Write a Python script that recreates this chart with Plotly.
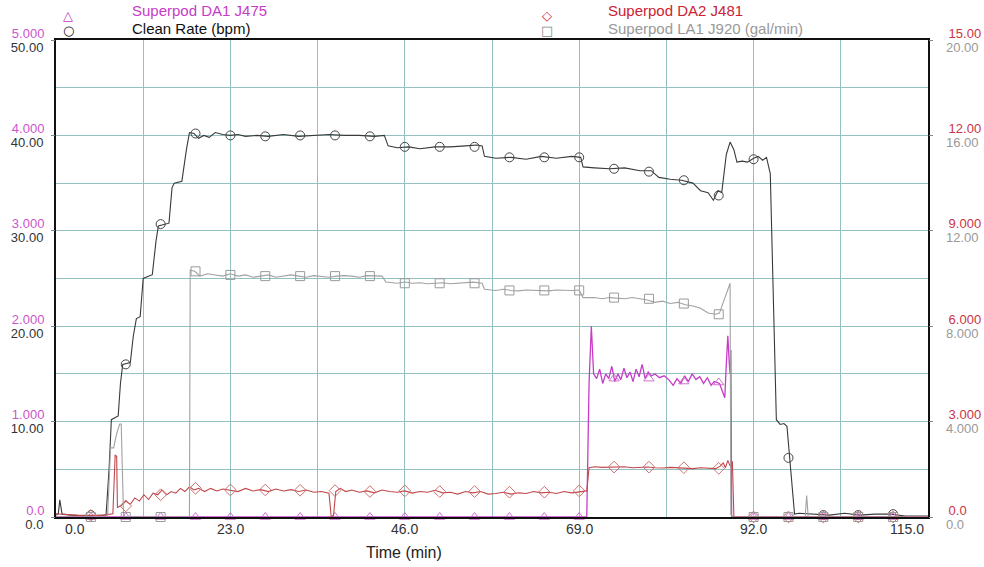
import plotly.graph_objects as go

# ---------------- data ----------------
# Clean Rate (bpm) - left black axis 0..50
clean_t = [0, 0.3, 0.5, 0.8, 2, 4, 6.6, 7.0, 7.3, 8.2, 8.5, 8.8, 9.8, 10.2, 10.6, 11.1, 11.5, 12.7,
           13.2, 13.5, 14.9, 15.3, 15.6, 16.6, 17.2, 17.6, 18.2, 18.8, 19.5, 20.2, 21, 22, 23, 24, 25,
           26.5, 28, 30, 32, 34, 36, 38, 40, 42, 43.3, 43.8, 45, 46.5, 48, 50, 52, 54, 55.5, 56.2, 56.5,
           58, 60, 62, 64, 66, 68, 69.2, 69.5, 71, 73, 75, 77, 78.5, 79.5, 81, 82.5, 84, 85, 86, 86.7,
           87.3, 87.8, 88.4, 88.9, 89.4, 89.8, 90.5, 91.2, 92, 92.6, 93.2, 93.7, 94.2, 95.0, 95.5, 96.0,
           96.4, 96.9, 97.4, 98, 100, 102, 104, 106, 108, 110, 112, 115]
clean_v = [0.2, 0.3, 1.8, 0.3, 0.2, 0.1, 0.2, 5, 10.2, 10.6, 14, 16.0, 16.2, 19, 20.8, 21.0, 25.0, 25.4,
           29, 30.5, 30.8, 34.5, 35.0, 35.2, 38.5, 40.3, 40.2, 39.7, 40.0, 39.8, 40.3, 40.1, 40.0, 40.1, 39.9,
           40.0, 39.9, 40.1, 39.9, 40.0, 40.1, 40.0, 40.0, 39.9, 40.0, 38.9, 38.7, 38.8, 38.6, 38.8, 38.8, 38.9, 39.0, 38.9, 37.8,
           37.6, 37.7, 37.5, 37.8, 37.6, 37.8, 37.7, 36.7, 36.6, 36.5, 36.6, 36.3, 36.3, 35.6, 35.4, 35.3, 35.0, 34.2, 34.0, 33.2,
           34.2, 34.0, 38.0, 39.3, 38.5, 37.2, 37.3, 37.2, 37.6, 37.8, 37.4, 37.7, 36.0, 10.2, 9.7, 9.8,
           9.5, 5.0, 0.3, 0.4, 0.3, 0.2, 0.4, 0.2, 0.3, 0.3, 0.1, 0.1]

# Superpod DA1 J475 - left magenta axis 0..5
da1_t = [0, 70.0, 70.3, 70.6, 70.9, 71.3, 71.7, 72.1, 72.5, 72.9, 73.3, 73.7, 74.1, 74.5, 74.9, 75.3,
         75.7, 76.1, 76.5, 76.9, 77.3, 77.7, 78.1, 78.5, 79.0, 79.6, 80.2, 80.8, 81.4, 81.9, 82.4, 82.9,
         83.4, 83.9, 84.4, 84.9, 85.4, 85.9, 86.4, 86.8, 87.5, 88.0, 88.2, 88.4, 88.6, 88.8, 88.9, 89.0,
         89.1, 115]
da1_v = [0, 0, 1.4, 2.0, 1.5, 1.45, 1.55, 1.4, 1.5, 1.45, 1.58, 1.42, 1.5, 1.44, 1.56, 1.46,
         1.52, 1.42, 1.55, 1.47, 1.6, 1.45, 1.52, 1.48, 1.5, 1.46, 1.48, 1.44, 1.38, 1.45, 1.40, 1.48,
         1.42, 1.50, 1.44, 1.47, 1.40, 1.46, 1.38, 1.42, 1.40, 1.30, 1.25, 1.6, 1.9, 1.6, 1.5, 1.75,
         0, 0]

# Superpod DA2 J481 - right red axis 0..15
da2_t = [0, 3, 6, 7.5, 7.8, 8.0, 8.1, 8.6, 9.2, 9.8, 10.4, 11, 11.6, 12.2, 12.8, 13.4, 14, 14.6, 15.2,
         15.8, 16.4, 17, 17.6, 18.2, 18.8, 19.6, 20.4, 21.2, 22, 23, 24, 25, 26, 27, 28, 29, 30, 31, 32,
         33, 34, 35, 36, 36.3, 36.6, 36.9, 37.5, 38.2, 39, 40, 41, 42, 43, 44, 45, 46, 47, 48, 49, 50,
         51, 52, 53, 54, 55, 56, 57, 58, 59, 60, 61, 62, 63, 64, 65, 66, 67, 68, 69, 70.0, 70.3, 71,
         72, 73, 74, 75, 76, 77, 78, 79, 80, 81, 82, 83, 84, 85, 86, 87, 87.6, 88.0, 88.3, 88.6, 88.9,
         89.2, 89.4, 115]
da2_v = [0.1, 0.05, 0.05, 0.1, 1.95, 1.9, 0.3, 0.35, 0.5, 0.4, 0.6, 0.5, 0.7, 0.55, 0.75, 0.7, 0.85, 0.7, 0.8,
         0.75, 0.9, 0.8, 0.95, 0.85, 0.9, 0.8, 0.9, 0.82, 0.88, 0.85, 0.8, 0.9, 0.82, 0.86, 0.8, 0.88, 0.82, 0.86, 0.8,
         0.85, 0.78, 0.8, 0.75, 0.0, 0.05, 0.8, 0.9, 0.8, 0.85, 0.78, 0.82, 0.76, 0.85, 0.8, 0.78, 0.82, 0.75, 0.8, 0.78, 0.84,
         0.76, 0.78, 0.72, 0.8, 0.76, 0.8, 0.72, 0.74, 0.78, 0.72, 0.76, 0.74, 0.8, 0.76, 0.78, 0.74, 0.8, 0.76, 0.78, 0.82, 1.55, 1.58,
         1.56, 1.57, 1.56, 1.58, 1.55, 1.56, 1.57, 1.55, 1.54, 1.56, 1.55, 1.53, 1.52, 1.55, 1.53, 1.52, 1.6, 1.7, 1.55, 1.78, 1.6,
         1.75, 0.0, 0.0]

# Superpod LA1 J920 (gal/min) - right gray axis 0..20
la1_t = [0, 6.8, 7.2, 7.6, 8.0, 8.4, 8.6, 8.9, 9.2, 17.6, 17.7, 18.3, 19, 20, 21, 22, 23, 24, 25, 26, 27,
         28, 29, 30, 31, 32, 33, 34, 35, 36, 37, 38, 39, 40, 41, 42, 43, 43.5, 45, 46, 47, 48, 49, 50, 51,
         52, 53, 54, 55, 56.2, 56.5, 58, 59, 60, 61, 62, 63, 64, 65, 66, 67, 68, 69, 69.5, 71, 72, 73, 74,
         75, 76, 77, 78, 79, 80, 81, 82, 83, 84, 85, 86, 87, 87.5, 88, 88.5, 88.9, 89.0, 89.3, 98.8, 99.0,
         99.2, 115]
la1_v = [0, 0, 2.9, 2.9, 3.5, 3.9, 3.9, 0.1, 0, 0, 10.35, 10.3, 10.1, 10.2, 10.15, 10.1, 10.2, 10.1, 10.15, 10.05, 10.1,
         10.15, 10.05, 10.1, 10.15, 10.1, 10.05, 10.12, 10.1, 10.05, 10.1, 10.12, 10.1, 10.05, 10.12, 10.1, 10.1, 9.85, 9.8, 9.85, 9.8, 9.82, 9.78, 9.8, 9.82,
         9.78, 9.8, 9.82, 9.85, 9.8, 9.55, 9.5, 9.55, 9.5, 9.48, 9.52, 9.5, 9.5, 9.48, 9.52, 9.5, 9.5, 9.52, 9.2, 9.2, 9.15, 9.2, 9.18,
         9.15, 9.2, 9.15, 9.1, 9.0, 9.05, 8.95, 9.0, 8.9, 8.85, 8.75, 8.55, 8.5, 8.55, 9.0, 9.4, 9.8, 0.1, 0, 0, 0.9,
         0, 0]

# marker positions (every 4.6 min) and marker values per series
marker_t = [4.6, 9.2, 13.8, 18.4, 23.0, 27.6, 32.2, 36.8, 41.4, 46.0, 50.6, 55.2, 59.8, 64.4, 69.0,
            73.6, 78.2, 82.8, 87.4, 92.0, 96.6, 101.2, 105.8, 110.4]
clean_m = [0.2, 16.0, 30.7, 40.2, 40.0, 39.9, 40.0, 40.0, 39.9, 38.8, 38.8, 38.8, 37.7, 37.7, 37.7,
           36.5, 36.2, 35.3, 33.7, 37.5, 6.2, 0.2, 0.2, 0.3]
da1_m = [0, 0, 0, 0, 0, 0, 0, 0, 0, 0, 0, 0, 0, 0, 0, 1.45, 1.45, 1.42, 1.41, 0, 0, 0, 0, 0]
da2_m = [0.05, 0.35, 0.7, 0.9, 0.85, 0.85, 0.84, 0.83, 0.8, 0.82, 0.8, 0.8, 0.78, 0.78, 0.82,
         1.57, 1.57, 1.55, 1.53, 0, 0, 0, 0, 0]
la1_m = [0, 0, 0, 10.3, 10.15, 10.1, 10.1, 10.1, 10.1, 9.8, 9.8, 9.8, 9.5, 9.5, 9.5,
         9.2, 9.15, 8.95, 8.5, 0, 0, 0, 0, 0]

# axis ticks
x_tick_vals = [0, 23, 46, 69, 92, 115]
x_tick_text = ["0.0", "23.0", "46.0", "69.0", "92.0", "115.0"]
x_grid_vals = [0, 11.5, 23, 34.5, 46, 57.5, 69, 80.5, 92, 103.5, 115]
clean_tick_vals = [0, 5, 10, 15, 20, 25, 30, 35, 40, 45, 50]
clean_tick_text = ["0.0", "", "10.00", "", "20.00", "", "30.00", "", "40.00", "", "50.00"]
da1_tick_vals = [0, 1, 2, 3, 4, 5]
da1_tick_text = ["0.0", "1.000", "2.000", "3.000", "4.000", "5.000"]
da2_tick_vals = [0, 3, 6, 9, 12, 15]
da2_tick_text = ["0.0", "3.000", "6.000", "9.000", "12.00", "15.00"]
la1_tick_vals = [0, 4, 8, 12, 16, 20]
la1_tick_text = ["0.0", "4.000", "8.000", "12.00", "16.00", "20.00"]

# ---------------- styles ----------------
C_BLACK = "#3a3a3a"
C_MAG = "#c63cc6"
C_RED = "#c0484c"
C_GRAY = "#a2a2a2"
GRID = "#93c0c0"
FONT = "Liberation Sans, Arial, sans-serif"

fig = go.Figure()

def add_series(t, v, mt, mv, color, mcolor, symbol, axis, lw=1.1):
    fig.add_trace(go.Scatter(x=t, y=v, mode="lines", yaxis=axis,
                             line=dict(color=color, width=lw), showlegend=False,
                             hoverinfo="skip", cliponaxis=False))
    fig.add_trace(go.Scatter(x=mt, y=mv, mode="markers", yaxis=axis,
                             marker=dict(symbol=symbol, size=9, color=mcolor,
                                         line=dict(color=mcolor, width=1)),
                             showlegend=False, hoverinfo="skip", cliponaxis=False))

add_series(la1_t, la1_v, marker_t, la1_m, C_GRAY, "#9a9a9a", "square-open", "y4")
add_series(clean_t, clean_v, marker_t, clean_m, C_BLACK, "#444444", "circle-open", "y")
add_series(da2_t, da2_v, marker_t, da2_m, C_RED, "#cf7070", "diamond-open", "y3")
add_series(da1_t, da1_v, marker_t, da1_m, C_MAG, "#d070d0", "triangle-up-open", "y2", lw=1.3)

common_y = dict(showgrid=False, zeroline=False, tickmode="array")

fig.update_layout(
    width=984, height=567,
    margin=dict(l=56, r=56, t=40, b=50, autoexpand=False),
    paper_bgcolor="white", plot_bgcolor="white",
    font=dict(family=FONT),
    xaxis=dict(range=[0, 115], tickmode="array", tickvals=x_grid_vals, showticklabels=False,
               showgrid=True, gridcolor=GRID, gridwidth=1, zeroline=False,
               showline=True, linecolor="#111111", linewidth=2, mirror=True, ticks=""),
    yaxis=dict(range=[0, 50], tickmode="array", tickvals=clean_tick_vals, ticktext=clean_tick_text,
               showgrid=True, gridcolor=GRID, gridwidth=1, zeroline=False,
               showline=True, linecolor="#111111", linewidth=2, mirror=True, ticks="",
               tickfont=dict(color="#333333", size=13, family=FONT),
               ticklabelshift=7, ticklabelstandoff=8),
    yaxis2=dict(range=[0, 5], overlaying="y", side="left", tickvals=da1_tick_vals, ticktext=da1_tick_text,
                tickfont=dict(color="#cc55cc", size=13, family=FONT), ticks="outside", ticklen=4,
                tickcolor="#888888", ticklabelshift=-7, ticklabelstandoff=4, **common_y),
    yaxis3=dict(range=[0, 15], overlaying="y", side="right", tickvals=da2_tick_vals, ticktext=da2_tick_text,
                tickfont=dict(color="#cc3344", size=13, family=FONT), ticks="outside", ticklen=4,
                tickcolor="#888888", ticklabelshift=-7, ticklabelstandoff=13, **common_y),
    yaxis4=dict(range=[0, 20], overlaying="y", side="right", tickvals=la1_tick_vals, ticktext=la1_tick_text,
                tickfont=dict(color="#999999", size=13, family=FONT), ticks="",
                ticklabelshift=7, ticklabelstandoff=17, **common_y),
)

# x tick labels (first and last kept inside the frame like the original)
for v, txt in zip(x_tick_vals, x_tick_text):
    shift = 0
    if v == x_tick_vals[0]:
        shift = 19
    elif v == x_tick_vals[-1]:
        shift = -21
    fig.add_annotation(x=v, y=0, xref="x", yref="paper", text=txt, showarrow=False,
                       xanchor="center", yanchor="middle", yshift=-12, xshift=shift,
                       font=dict(size=14, color="#333333", family=FONT))


def px_x(px):
    return (px - 56) / 872


def px_y(py):
    return (517 - py) / 477


fig.add_annotation(x=px_x(404), y=px_y(552), xref="paper", yref="paper", text="Time (min)",
                   showarrow=False, xanchor="center", yanchor="middle",
                   font=dict(size=16, color="#222222", family=FONT))

# legend (header) entries
legend_items = [
    (68, 15, "\u25B3", C_MAG, C_MAG, 130, 11, "Superpod DA1 J475"),
    (68, 30, "\u25CB", "#111111", "#111111", 130, 28, "Clean Rate (bpm)"),
    (547, 15, "\u25C7", "#cc2233", "#cc2233", 606, 11, "Superpod DA2 J481"),
    (547, 30, "\u25A1", "#888888", "#999999", 606, 28, "Superpod LA1 J920 (gal/min)"),
]
for sx, sy, sym, scol, tcol, tx, ty, label in legend_items:
    fig.add_annotation(x=px_x(sx), y=px_y(sy), xref="paper", yref="paper", text="<b>" + sym + "</b>",
                       showarrow=False, xanchor="center", yanchor="middle",
                       font=dict(size=13, color=scol, family="DejaVu Sans"))
    fig.add_annotation(x=px_x(tx), y=px_y(ty), xref="paper", yref="paper", text=label,
                       showarrow=False, xanchor="left", yanchor="middle",
                       font=dict(size=15, color=tcol, family=FONT))

fig.write_html("out.html")
